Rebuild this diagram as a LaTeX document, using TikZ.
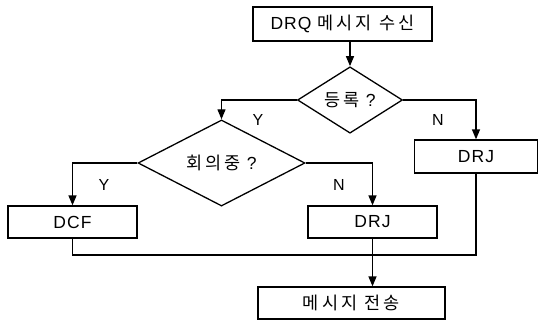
\documentclass[tikz,border=0pt]{standalone}
\usepackage{fontspec}
\setmainfont[LetterSpace=6]{Liberation Sans}
\newfontfamily\kr[LetterSpace=18]{Noto Sans CJK KR}
\usetikzlibrary{shapes.geometric,arrows.meta}
\begin{document}
\begin{tikzpicture}[x=1pt,y=-1pt,
  box/.style={draw,line width=1.3pt,rectangle,inner sep=0pt,font=\fontsize{17.5}{19}\selectfont},
  dia/.style={draw,line width=1.3pt,diamond,inner sep=0pt,font=\fontsize{17.5}{19}\selectfont},
  lbl/.style={font=\fontsize{16}{18}\selectfont,inner sep=0pt},
  conn/.style={line width=1.3pt},
  arr/.style={conn,-{Triangle[length=10pt,width=8pt]}}]
\useasboundingbox (0,0) rectangle (539,322);
\node[box,minimum width=179pt,minimum height=34pt] (top) at (342.5,24) {DRQ {\kr 메시지 수신}};
\node[dia,minimum width=105pt,minimum height=48pt] (d1) at (350,100) {{\kr 등록} ?};
\node[dia,minimum width=167pt,minimum height=50pt] (d2) at (221.5,163) {{\kr 회의중} ?};
\node[box,minimum width=123pt,minimum height=33pt] (drj1) at (476,156.5) {DRJ};
\node[box,minimum width=129pt,minimum height=32pt] (dcf) at (72.5,222) {DCF};
\node[box,minimum width=129pt,minimum height=32pt] (drj2) at (372.5,222) {DRJ};
\node[box,minimum width=187pt,minimum height=32pt] (fin) at (351.5,303) {\kr 메시지 전송};
\node[lbl] (y1) at (258,120) {Y};
\node[lbl] (n1) at (438,120) {N};
\node[lbl] (y2) at (104,185) {Y};
\node[lbl] (n2) at (339,185) {N};
\coordinate (m) at (372.5,255);
\draw[arr] (top.south -| d1.north) -- (d1.north);
\draw[arr] (d1.west) -| (d2.north);
\draw[arr] (d1.east) -| (drj1.north);
\draw[arr] (d2.west) -| (dcf.north);
\draw[arr] (d2.east) -| (drj2.north);
\draw[conn] (dcf.south) |- (m) -| (drj1.south);
\draw[arr] (drj2.south) -- (drj2.south |- fin.north);
\end{tikzpicture}
\end{document}
